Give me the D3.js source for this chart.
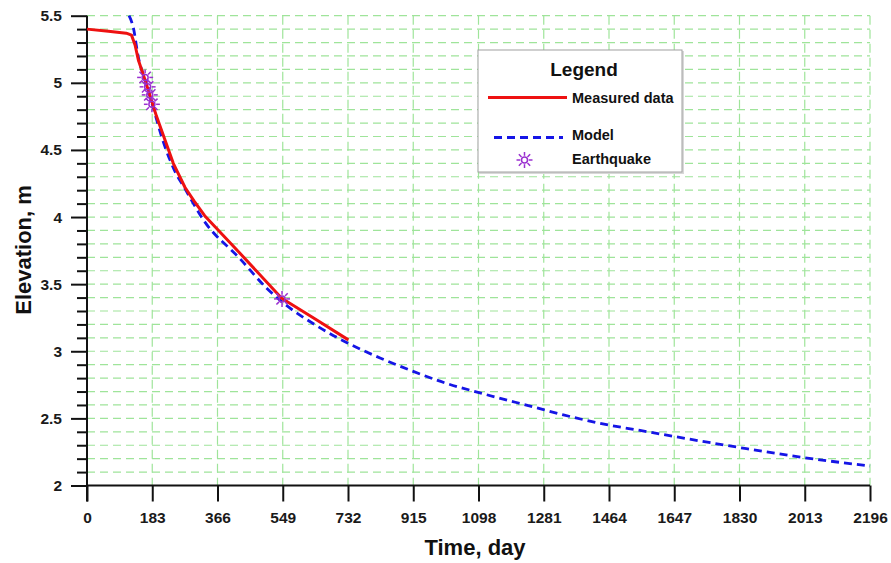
<!DOCTYPE html>
<html>
<head>
<meta charset="utf-8">
<script src="https://cdn.jsdelivr.net/npm/d3@7"></script>
<style>
html,body{margin:0;padding:0;background:#fff;}
svg{display:block;font-family:"Liberation Sans",Arial,sans-serif;}
</style>
</head>
<body>
<svg id="chart" width="891" height="563"></svg>
<script>
// ---- data ----
const xTicks = [0,183,366,549,732,915,1098,1281,1464,1647,1830,2013,2196];
const yTicks = [2,2.5,3,3.5,4,4.5,5,5.5];
const measuredDays = [0,60,110,125,135,144,163,182,195,242,275,300,330,429,546,640,733];
const measuredElev = [5.40,5.385,5.37,5.355,5.28,5.17,5.02,4.86,4.75,4.40,4.22,4.12,4.01,3.73,3.395,3.24,3.085];
const modelDays = [118,130,144,163,182,214,245,275,326,429,504,546,644,732,822,915,1009,1102,1252,1336,1462,1551,1649,1830,2013,2196];
const modelElev = [5.50,5.41,5.19,5.02,4.85,4.56,4.35,4.21,3.98,3.69,3.47,3.37,3.19,3.06,2.95,2.85,2.76,2.69,2.585,2.526,2.451,2.41,2.364,2.283,2.207,2.145];
const quakeDays = [163,170,176,182,547];
const quakeElev = [5.04,4.97,4.91,4.84,3.39];
const legendLabels = ["Measured data","Model","Earthquake"];

// ---- layout ----
const svg = d3.select("#chart");
const x = d3.scaleLinear().domain([0,2196]).range([87,870]);
const y = d3.scaleLinear().domain([2,5.5]).range([485.5,15.7]);
const gridColor = "#9fe49a";

// grid
const minorY = d3.range(21,56).map(v=>v/10);
svg.append("g").selectAll("line").data(minorY).join("line")
  .attr("x1",x(0)).attr("x2",x(2196))
  .attr("y1",d=>y(d)).attr("y2",d=>y(d))
  .attr("stroke",gridColor).attr("stroke-width",1.2).attr("stroke-dasharray","8,5");
svg.append("g").selectAll("line").data(xTicks.slice(1)).join("line")
  .attr("x1",d=>x(d)).attr("x2",d=>x(d))
  .attr("y1",y(5.5)).attr("y2",y(2))
  .attr("stroke",gridColor).attr("stroke-width",1.2).attr("stroke-dasharray","9,5");

// axes
const ax = svg.append("g").attr("transform",`translate(0,${y(2)})`)
  .call(d3.axisBottom(x).tickValues(xTicks).tickSize(16).tickPadding(10).tickFormat(d3.format("d")));
ax.select(".domain").attr("stroke","#111").attr("stroke-width",2).attr("d",`M${x(0)},0H${x(2196)}`);
ax.selectAll(".tick line").attr("stroke","#111").attr("stroke-width",2);
ax.selectAll(".tick text").attr("font-size",15.5).attr("font-weight","bold").attr("fill","#1a1a1a")
  .attr("font-family","Liberation Sans,Arial,sans-serif");

const ayMinor = svg.append("g").attr("transform",`translate(${x(0)},0)`)
  .call(d3.axisLeft(y).tickValues(minorY.filter(v=>Math.round(v*10)%5!==0)).tickSize(10).tickFormat(""));
ayMinor.select(".domain").remove();
ayMinor.selectAll(".tick line").attr("stroke","#111").attr("stroke-width",2);

const ay = svg.append("g").attr("transform",`translate(${x(0)},0)`)
  .call(d3.axisLeft(y).tickValues(yTicks).tickSize(16).tickPadding(9).tickFormat(d=>String(d)));
ay.select(".domain").attr("stroke","#111").attr("stroke-width",2).attr("d",`M0,${y(5.5)}V${y(2)+16}`);
ay.selectAll(".tick line").attr("stroke","#111").attr("stroke-width",2);
ay.selectAll(".tick text").attr("font-size",15.5).attr("font-weight","bold").attr("fill","#1a1a1a")
  .attr("font-family","Liberation Sans,Arial,sans-serif");

// axis titles
svg.append("text").attr("x",475).attr("y",555).attr("text-anchor","middle")
  .attr("font-size",22).attr("font-weight","bold").attr("fill","#111").text("Time, day");
svg.append("text").attr("transform","translate(31,250) rotate(-90)").attr("text-anchor","middle")
  .attr("font-size",22).attr("font-weight","bold").attr("fill","#111").text("Elevation, m");

// lines
const measured = measuredDays.map((d,i)=>[d,measuredElev[i]]);
const model = modelDays.map((d,i)=>[d,modelElev[i]]);
const lineM = d3.line().x(d=>x(d[0])).y(d=>y(d[1]));
const lineB = d3.line().x(d=>x(d[0])).y(d=>y(d[1])).curve(d3.curveMonotoneX);
svg.append("path").attr("d",lineB(model)).attr("fill","none").attr("stroke","#1515e6")
  .attr("stroke-width",2.8).attr("stroke-dasharray","8,5");
svg.append("path").attr("d",lineM(measured)).attr("fill","none").attr("stroke","#ee1111")
  .attr("stroke-width",3).attr("stroke-linejoin","round");

// earthquake symbol
const quakeColor = "#9a2fd0";
function star(g,cx,cy){
  const s = g.append("g").attr("transform",`translate(${cx},${cy})`);
  s.append("circle").attr("r",3).attr("fill","none").attr("stroke",quakeColor).attr("stroke-width",1.5);
  d3.range(8).forEach(k=>{
    const a = k*Math.PI/4;
    s.append("line").attr("x1",4.2*Math.cos(a)).attr("y1",4.2*Math.sin(a))
      .attr("x2",8*Math.cos(a)).attr("y2",8*Math.sin(a))
      .attr("stroke",quakeColor).attr("stroke-width",1.5);
  });
}
const qg = svg.append("g");
quakeDays.forEach((d,i)=>star(qg,x(d),y(quakeElev[i])));

// legend
const lg = svg.append("g");
lg.append("rect").attr("x",479).attr("y",51).attr("width",205).attr("height",123).attr("fill","#d8d8d8");
lg.append("rect").attr("x",478).attr("y",50).attr("width",204).attr("height",122)
  .attr("fill","#fff").attr("stroke","#a0a0a0").attr("stroke-width",1);
lg.append("text").attr("x",584).attr("y",76).attr("text-anchor","middle")
  .attr("font-size",19).attr("font-weight","bold").attr("fill","#111").text("Legend");
lg.append("line").attr("x1",488).attr("x2",567).attr("y1",97.5).attr("y2",97.5)
  .attr("stroke","#ee1111").attr("stroke-width",3);
lg.append("line").attr("x1",494).attr("x2",563).attr("y1",137.5).attr("y2",137.5)
  .attr("stroke","#1515e6").attr("stroke-width",2.8).attr("stroke-dasharray","8,5");
star(lg,524.5,160);
const ly = [102.5,140,163.5];
legendLabels.forEach((t,i)=>{
  lg.append("text").attr("x",572).attr("y",ly[i]).attr("font-size",14.5).attr("font-weight","bold")
    .attr("fill","#111").text(t);
});
</script>
</body>
</html>
